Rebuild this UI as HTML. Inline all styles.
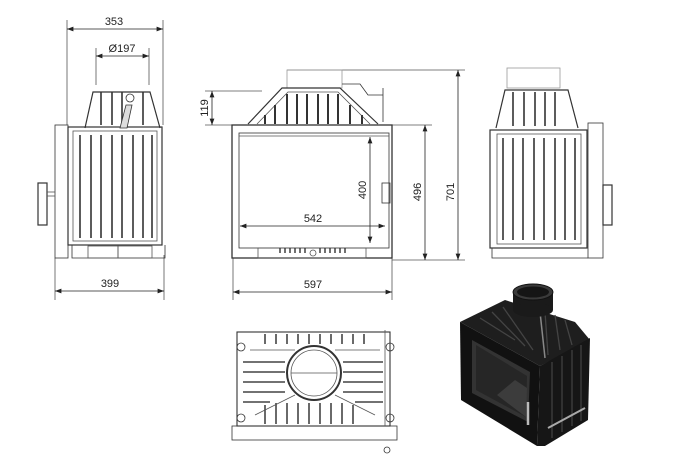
<!DOCTYPE html>
<html><head><meta charset="utf-8"><style>
html,body{margin:0;padding:0;background:#fff}
svg{display:block}
text{font-family:"Liberation Sans",sans-serif;font-size:11px;fill:#222}
</style></head><body>
<svg width="675" height="475" viewBox="0 0 675 475" xmlns="http://www.w3.org/2000/svg">
<defs>
<marker id="a" markerWidth="8" markerHeight="6" refX="8" refY="3" orient="auto-start-reverse"><path d="M0,0 L8,3 L0,6z" fill="#222"/></marker>
</defs>
<g stroke="#555" stroke-width="0.8" fill="none">
<!-- LEFT VIEW -->
<line x1="67" y1="20" x2="67" y2="125"/><line x1="163" y1="20" x2="163" y2="125"/>
<line x1="67" y1="29" x2="163" y2="29" marker-start="url(#a)" marker-end="url(#a)" stroke="#222"/>
<line x1="96" y1="48" x2="96" y2="85"/><line x1="149" y1="48" x2="149" y2="85"/>
<line x1="96" y1="56" x2="149" y2="56" marker-start="url(#a)" marker-end="url(#a)" stroke="#222"/>
<line x1="55" y1="258" x2="55" y2="300"/><line x1="164" y1="255" x2="164" y2="300"/>
<line x1="55" y1="291" x2="164" y2="291" marker-start="url(#a)" marker-end="url(#a)" stroke="#222"/>
<path d="M85,128 L93,92 L150,92 L160,128" stroke="#333" stroke-width="1.2"/>
<rect x="68" y="127" width="94" height="118" stroke="#333" stroke-width="1.2"/>
<rect x="73" y="131" width="84" height="110"/>
<rect x="55" y="125" width="13" height="133" stroke="#333"/>
<rect x="38" y="183" width="9" height="42" stroke="#333" stroke-width="1.2"/>
<line x1="47" y1="192" x2="55" y2="192"/><line x1="47" y1="196" x2="55" y2="196"/>
<path d="M72,245 L72,258 L165,258 L165,245" stroke="#333"/>
<rect x="88" y="246" width="30" height="12"/><rect x="118" y="246" width="34" height="12"/>
<g stroke="#333" stroke-width="1.6">
<line x1="80" y1="135" x2="80" y2="238"/><line x1="91" y1="135" x2="91" y2="238"/><line x1="101" y1="135" x2="101" y2="238"/><line x1="112" y1="135" x2="112" y2="238"/><line x1="122" y1="135" x2="122" y2="238"/><line x1="133" y1="135" x2="133" y2="238"/><line x1="143" y1="135" x2="143" y2="238"/><line x1="152" y1="135" x2="152" y2="238"/>
<line x1="101" y1="92" x2="101" y2="125"/><line x1="112" y1="92" x2="112" y2="125"/><line x1="122" y1="92" x2="122" y2="125"/><line x1="143" y1="92" x2="143" y2="125"/>
</g>
<path d="M120,128 L126,105 L132,105 L127,128z" stroke="#333" fill="#ddd"/>
<circle cx="130" cy="98" r="4" stroke="#333"/>
<!-- FRONT VIEW -->
<line x1="205" y1="91" x2="262" y2="91"/><line x1="205" y1="125" x2="232" y2="125"/>
<line x1="212" y1="91" x2="212" y2="125" marker-start="url(#a)" marker-end="url(#a)" stroke="#222"/>
<line x1="287" y1="70" x2="465" y2="70"/>
<line x1="392" y1="125" x2="432" y2="125"/>
<line x1="392" y1="260" x2="465" y2="260"/>
<line x1="425" y1="125" x2="425" y2="260" marker-start="url(#a)" marker-end="url(#a)" stroke="#222"/>
<line x1="458" y1="70" x2="458" y2="260" marker-start="url(#a)" marker-end="url(#a)" stroke="#222"/>
<line x1="233" y1="258" x2="233" y2="300"/><line x1="392" y1="258" x2="392" y2="300"/>
<line x1="233" y1="292" x2="392" y2="292" marker-start="url(#a)" marker-end="url(#a)" stroke="#222"/>
<line x1="240" y1="226" x2="385" y2="226" marker-start="url(#a)" marker-end="url(#a)" stroke="#222"/>
<line x1="370" y1="137" x2="370" y2="243" marker-start="url(#a)" marker-end="url(#a)" stroke="#222"/>
<rect x="287" y="70" width="55" height="18" stroke="#999"/>
<path d="M248,124 L282,88 L340,88 L378,124" stroke="#333" stroke-width="1.2"/>
<path d="M257,124 L288,92 L338,92 L370,124"/>
<path d="M342,84 L360,84 L368,95 L383,95" stroke="#333"/>
<line x1="383" y1="88" x2="383" y2="122" stroke="#333"/>
<g stroke="#333" stroke-width="2">
<line x1="287" y1="94" x2="287" y2="124"/><line x1="297" y1="94" x2="297" y2="124"/><line x1="307" y1="94" x2="307" y2="124"/><line x1="318" y1="94" x2="318" y2="124"/><line x1="328" y1="94" x2="328" y2="124"/><line x1="338" y1="94" x2="338" y2="124"/>
<line x1="275" y1="105" x2="275" y2="124"/><line x1="350" y1="105" x2="350" y2="124"/><line x1="265" y1="115" x2="265" y2="124"/><line x1="362" y1="115" x2="362" y2="124"/>
</g>
<rect x="232" y="125" width="160" height="133" stroke="#333" stroke-width="1.3"/>
<rect x="239" y="133" width="150" height="115" stroke="#333"/>
<line x1="239" y1="136" x2="389" y2="136"/>
<rect x="382" y="183" width="8" height="20" stroke="#333"/>
<rect x="258" y="248" width="108" height="10"/>
<g stroke="#333" stroke-width="1.4"><line x1="280" y1="248" x2="280" y2="253"/><line x1="285" y1="248" x2="285" y2="253"/><line x1="290" y1="248" x2="290" y2="253"/><line x1="295" y1="248" x2="295" y2="253"/><line x1="300" y1="248" x2="300" y2="253"/><line x1="305" y1="248" x2="305" y2="253"/><line x1="320" y1="248" x2="320" y2="253"/><line x1="325" y1="248" x2="325" y2="253"/><line x1="330" y1="248" x2="330" y2="253"/><line x1="335" y1="248" x2="335" y2="253"/><line x1="340" y1="248" x2="340" y2="253"/><line x1="345" y1="248" x2="345" y2="253"/></g>
<circle cx="313" cy="253" r="3"/>
<!-- RIGHT VIEW -->
<rect x="507" y="68" width="53" height="20" stroke="#999"/>
<path d="M496,128 L505,90 L568,90 L578,128" stroke="#333" stroke-width="1.2"/>
<rect x="490" y="130" width="97" height="118" stroke="#333" stroke-width="1.2"/>
<rect x="497" y="134" width="84" height="110"/>
<rect x="588" y="123" width="15" height="135" stroke="#333"/>
<rect x="603" y="185" width="9" height="40" stroke="#333" stroke-width="1.2"/>
<path d="M492,248 L492,258 L588,258" stroke="#333"/>
<g stroke="#333" stroke-width="1.6">
<line x1="503" y1="138" x2="503" y2="240"/><line x1="513" y1="138" x2="513" y2="240"/><line x1="523" y1="138" x2="523" y2="240"/><line x1="534" y1="138" x2="534" y2="240"/><line x1="544" y1="138" x2="544" y2="240"/><line x1="555" y1="138" x2="555" y2="240"/><line x1="565" y1="138" x2="565" y2="240"/><line x1="575" y1="138" x2="575" y2="240"/>
<line x1="513" y1="92" x2="513" y2="126"/><line x1="524" y1="92" x2="524" y2="126"/><line x1="535" y1="92" x2="535" y2="126"/><line x1="545" y1="92" x2="545" y2="126"/><line x1="555" y1="92" x2="555" y2="126"/>
</g>
<!-- PLAN VIEW -->
<rect x="237" y="332" width="153" height="94" stroke="#333" stroke-width="1.1"/>
<rect x="232" y="426" width="165" height="14" stroke="#333"/>
<line x1="385" y1="330" x2="385" y2="426"/>
<circle cx="314" cy="373" r="27" stroke="#333" stroke-width="2"/>
<circle cx="314" cy="373" r="23"/>
<line x1="291" y1="373" x2="337" y2="373"/>
<circle cx="241" cy="347" r="4" stroke="#333"/><circle cx="390" cy="347" r="4" stroke="#333"/>
<circle cx="241" cy="418" r="4" stroke="#333"/><circle cx="390" cy="418" r="4" stroke="#333"/>
<circle cx="387" cy="450" r="3" stroke="#333"/>
<g stroke="#444" stroke-width="1.6">
<line x1="265" y1="334" x2="265" y2="344"/><line x1="276" y1="334" x2="276" y2="344"/><line x1="287" y1="334" x2="287" y2="344"/><line x1="298" y1="334" x2="298" y2="344"/><line x1="309" y1="334" x2="309" y2="344"/><line x1="320" y1="334" x2="320" y2="344"/><line x1="331" y1="334" x2="331" y2="344"/><line x1="342" y1="334" x2="342" y2="344"/><line x1="353" y1="334" x2="353" y2="344"/><line x1="364" y1="334" x2="364" y2="344"/>
<line x1="265" y1="405" x2="265" y2="424"/><line x1="276" y1="403" x2="276" y2="424"/><line x1="287" y1="403" x2="287" y2="424"/><line x1="298" y1="403" x2="298" y2="424"/><line x1="309" y1="403" x2="309" y2="424"/><line x1="320" y1="403" x2="320" y2="424"/><line x1="331" y1="403" x2="331" y2="424"/><line x1="342" y1="403" x2="342" y2="424"/><line x1="353" y1="405" x2="353" y2="424"/>
<line x1="243" y1="362" x2="285" y2="362"/><line x1="243" y1="372" x2="285" y2="372"/><line x1="243" y1="382" x2="285" y2="382"/><line x1="243" y1="392" x2="285" y2="392"/><line x1="243" y1="402" x2="270" y2="402"/>
<line x1="343" y1="362" x2="383" y2="362"/><line x1="343" y1="372" x2="383" y2="372"/><line x1="343" y1="382" x2="383" y2="382"/><line x1="343" y1="392" x2="383" y2="392"/><line x1="355" y1="402" x2="383" y2="402"/>
</g>
<path d="M250,350 L295,350 M335,350 L380,350 M255,415 L295,395 M335,395 L375,415"/>
</g>
<!-- 3D VIEW -->
<g>
<!-- hood -->
<path d="M460,322 L505,300 L575,322 L590,340 L540,366z" fill="#1e1e1e"/>
<g stroke="#444" stroke-width="1.3"><line x1="480" y1="318" x2="515" y2="340"/><line x1="492" y1="312" x2="525" y2="346"/><line x1="503" y1="307" x2="533" y2="350"/><line x1="555" y1="315" x2="560" y2="350"/><line x1="565" y1="320" x2="572" y2="345"/><line x1="545" y1="312" x2="548" y2="355"/></g>
<line x1="540" y1="312" x2="545" y2="358" stroke="#888" stroke-width="1.5"/>
<!-- side -->
<path d="M540,366 L590,338 L588,420 L545,446 L537,446z" fill="#161616"/>
<g stroke="#3a3a3a" stroke-width="1.5"><line x1="552" y1="362" x2="552" y2="438"/><line x1="562" y1="356" x2="562" y2="432"/><line x1="572" y1="350" x2="572" y2="426"/><line x1="581" y1="345" x2="581" y2="421"/></g>
<line x1="548" y1="428" x2="585" y2="408" stroke="#aaa" stroke-width="2"/>
<!-- front frame -->
<path d="M460,322 L540,366 L537,446 L461,400z" fill="#111"/>
<path d="M472,340 L530,372 L528,422 L472,393z" fill="#333"/>
<path d="M476,345 L527,376 L526,417 L476,390z" fill="#262626"/>
<path d="M497,395 L515,380 L527,388 L526,417z" fill="#3c3c3c"/>
<line x1="528" y1="402" x2="528" y2="425" stroke="#bbb" stroke-width="2.5"/>
<!-- flue -->
<rect x="513" y="292" width="40" height="18" fill="#1a1a1a"/>
<ellipse cx="533" cy="310" rx="20" ry="7" fill="#1a1a1a"/>
<ellipse cx="533" cy="292" rx="20" ry="8" fill="#3a3a3a" stroke="#111"/>
<ellipse cx="533" cy="292" rx="16" ry="5.5" fill="#151515"/>
</g>
<!-- TEXT -->
<text x="114" y="25" text-anchor="middle">353</text>
<text x="122" y="52" text-anchor="middle">Ø197</text>
<text x="110" y="287" text-anchor="middle">399</text>
<text x="313" y="288" text-anchor="middle">597</text>
<text x="313" y="222" text-anchor="middle">542</text>
<text transform="translate(208,108) rotate(-90)" text-anchor="middle">119</text>
<text transform="translate(366,190) rotate(-90)" text-anchor="middle">400</text>
<text transform="translate(421,192) rotate(-90)" text-anchor="middle">496</text>
<text transform="translate(454,192) rotate(-90)" text-anchor="middle">701</text>
</svg>
</body></html>
